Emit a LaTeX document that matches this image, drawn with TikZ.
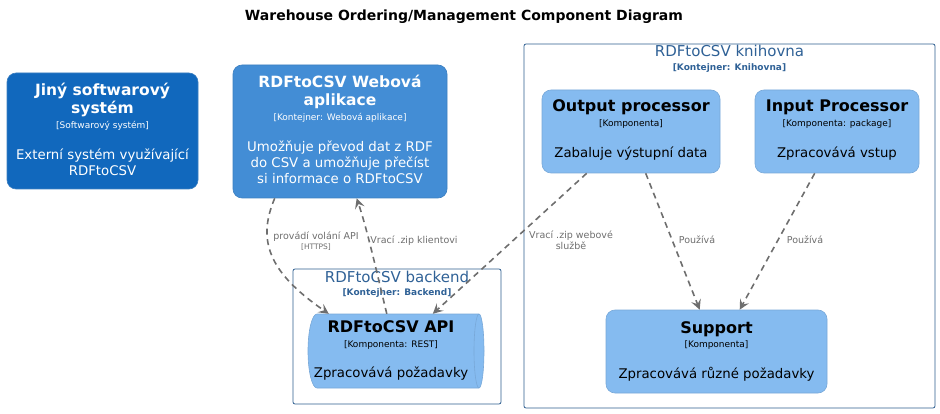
\documentclass[tikz,border=0pt]{standalone}
\usepackage{fontspec}
\setmainfont{DejaVu Sans}
\usetikzlibrary{arrows.meta}
\definecolor{sysblue}{HTML}{1168BD}
\definecolor{webblue}{HTML}{438DD5}
\definecolor{compblue}{HTML}{85BBF0}
\definecolor{compborder}{HTML}{78A8D8}
\definecolor{sysborder}{HTML}{3C7FC0}
\definecolor{bndcol}{HTML}{2C5D8F}
\definecolor{bndtext}{HTML}{2F6196}
\definecolor{linecol}{HTML}{6E6E6E}
\tikzset{
  boxsys/.style={draw=sysborder, fill=sysblue, rounded corners=9pt, line width=0.6pt},
  boxweb/.style={draw=sysborder, fill=webblue, rounded corners=9pt, line width=0.6pt},
  boxcomp/.style={draw=compborder, fill=compblue, rounded corners=9pt, line width=0.6pt},
  bnd/.style={draw=bndcol, rounded corners=2pt, line width=0.8pt},
  txt/.style={inner sep=0pt, anchor=mid},
  ttl/.style={txt, font=\fontsize{15.5}{18}\selectfont\bfseries},
  tagt/.style={txt, font=\fontsize{9}{10}\selectfont},
  desct/.style={txt, font=\fontsize{13.3}{16}\selectfont},
  bttl/.style={txt, font=\fontsize{15}{18}\selectfont, text=bndtext},
  btag/.style={txt, font=\fontsize{9}{10}\selectfont\bfseries, text=bndtext},
  lbl/.style={txt, font=\fontsize{9.5}{11}\selectfont, text=linecol},
  lbls/.style={txt, font=\fontsize{7.5}{9}\selectfont, text=linecol},
  rel/.style={draw=linecol, line width=1.6pt, dash pattern=on 6pt off 4.5pt,
    -{Stealth[length=10pt,width=10pt,inset=4pt]}},
}
\begin{document}
\begin{tikzpicture}[x=1pt,y=-1pt]
\useasboundingbox (0,0) rectangle (940,414);
% title
\node[txt, font=\fontsize{14}{16}\selectfont\bfseries] (title) at (464,18) {Warehouse Ordering/Management Component Diagram};

% boundaries
\draw[bnd] (524,44) rectangle (935,408);
\node[bttl] (knt) at (729.5,54) {RDFtoCSV knihovna};
\node[btag] (kntag) at (729.5,68) {[Kontejner: Knihovna]};
\draw[bnd] (293,269) rectangle (501,404);
\node[bttl] (bkt) at (397,280) {RDFtoCSV backend};
\node[btag] (bktag) at (397,293) {[Kontejner: Backend]};

% external system
\node[boxsys, minimum width=191pt, minimum height=116pt, inner sep=0pt] (ext) at (102.5,131) {};
\begin{scope}[text=white]
\node[ttl] (ext1) at (102.5,93) {Jiný softwarový};
\node[ttl] (ext2) at (102.5,111) {systém};
\node[tagt] (ext3) at (102.5,126) {[Softwarový systém]};
\node[desct] (ext4) at (102.5,157) {Externí systém využívající};
\node[desct] (ext5) at (102.5,173) {RDFtoCSV};
\end{scope}

% web app
\node[boxweb, minimum width=214pt, minimum height=133pt, inner sep=0pt] (web) at (340,131.5) {};
\begin{scope}[text=white]
\node[ttl] (web1) at (340,85) {RDFtoCSV Webová};
\node[ttl] (web2) at (340,103) {aplikace};
\node[tagt] (web3) at (340,118) {[Kontejner: Webová aplikace]};
\node[desct] (web4) at (340,149) {Umožňuje převod dat z RDF};
\node[desct] (web5) at (340,165) {do CSV a umožňuje přečíst};
\node[desct] (web6) at (340,181) {si informace o RDFtoCSV};
\end{scope}

% output processor
\node[boxcomp, minimum width=178pt, minimum height=83pt, inner sep=0pt] (op) at (631,131.5) {};
\node[ttl, font=\fontsize{16}{18}\selectfont\bfseries] (op1) at (631,109) {Output processor};
\node[tagt] (op2) at (631,124) {[Komponenta]};
\node[desct] (op3) at (631,155) {Zabaluje výstupní data};

% input processor
\node[boxcomp, minimum width=164pt, minimum height=83pt, inner sep=0pt] (ip) at (837,131.5) {};
\node[ttl, font=\fontsize{16}{18}\selectfont\bfseries] (ip1) at (837,109) {Input Processor};
\node[tagt] (ip2) at (837,124) {[Komponenta: package]};
\node[desct] (ip3) at (837,155) {Zpracovává vstup};

% support
\node[boxcomp, minimum width=221pt, minimum height=83pt, inner sep=0pt] (sup) at (716.5,351.5) {};
\node[ttl, font=\fontsize{16}{18}\selectfont\bfseries] (sup1) at (716.5,331) {Support};
\node[tagt] (sup2) at (716.5,345) {[Komponenta]};
\node[desct] (sup3) at (716.5,376) {Zpracovává různé požadavky};

% API cylinder
\node[inner sep=0pt, minimum width=176pt, minimum height=74pt] (api) at (396,351) {};
\fill[compblue] (317,314) -- (479,314) arc[start angle=-90,end angle=90,x radius=5,y radius=37]
  -- (317,388) arc[start angle=90,end angle=270,x radius=9,y radius=37] -- cycle;
\draw[compborder, line width=0.6pt] (317,314) -- (479,314) arc[start angle=-90,end angle=90,x radius=5,y radius=37]
  -- (317,388) arc[start angle=90,end angle=270,x radius=9,y radius=37] -- cycle;
\draw[compborder, line width=0.6pt] (479,314) arc[start angle=-90,end angle=-270,x radius=5,y radius=37];
\node[ttl, font=\fontsize{16}{18}\selectfont\bfseries] (api1) at (391,330) {RDFtoCSV API};
\node[tagt] (api2) at (391,345) {[Komponenta: REST]};
\node[desct] (api3) at (391,375) {Zpracovává požadavky};

% relations
\draw[rel] ([xshift=42pt]web.south west) .. controls (257,240) and (268,272) .. ([xshift=21pt]api.north west);
\node[lbl] (l1a) at (316,237) {provádí volání API};
\node[lbls] (l1b) at (316,247) {[HTTPS]};

\draw[rel] ([xshift=79pt]api.north west) .. controls (378,278) and (368,232) .. ([xshift=124pt]web.south west);
\node[lbl] (l2) at (414,241) {Vrací .zip klientovi};

\draw[rel] ([xshift=45pt]op.south west) -- ([xshift=125pt]api.north west);
\node[lbl] (l3a) at (571,236) {Vrací .zip webové};
\node[lbl] (l3b) at (571,247) {službě};

\draw[rel] ([xshift=104pt]op.south west) -- ([xshift=94pt]sup.north west);
\node[lbl] (l4) at (697,241) {Používá};

\draw[rel] ([xshift=60pt]ip.south west) -- ([xshift=134pt]sup.north west);
\node[lbl] (l5) at (805,241) {Používá};
\end{tikzpicture}
\end{document}
